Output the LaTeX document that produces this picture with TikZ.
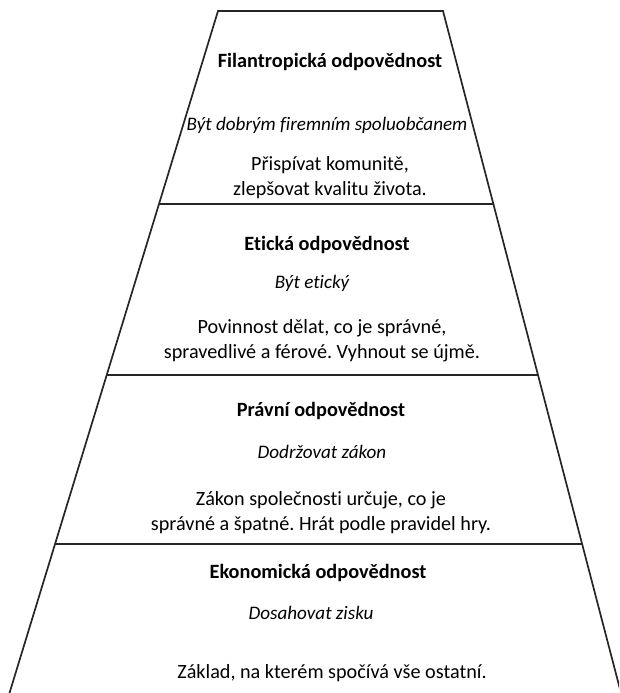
\documentclass[tikz,border=0pt]{standalone}
\usepackage{fontspec}
\setmainfont[Ligatures=CommonOff]{Carlito}
\frenchspacing

\begin{document}
\begin{tikzpicture}[x=1pt, y=-1pt]
\tikzset{nadpis/.style={font=\fontsize{20.3}{24}\selectfont\bfseries, inner sep=0pt},
  motto/.style={font=\fontsize{19.1}{24}\selectfont\itshape, inner sep=0pt},
  popis/.style={font=\fontsize{20.2}{25}\selectfont, align=center, inner sep=0pt},
  hrana/.style={line width=1.7pt, draw=black!85}}
\useasboundingbox (0, 0) rectangle (619, 693);
\clip (0, 0) rectangle (619, 693);
\coordinate (L0) at (218, 11);
\coordinate (R0) at (443, 11);
\coordinate (L1) at (159, 204);
\coordinate (R1) at (493, 204);
\coordinate (L2) at (107, 375);
\coordinate (R2) at (538, 375);
\coordinate (L3) at (55, 544);
\coordinate (R3) at (582, 544);
\coordinate (L4) at (9.5, 693);
\coordinate (R4) at (621, 693);
\draw[hrana, line join=miter] (L4) -- (L0) -- (R0) -- (R4);
\draw[hrana] (L1) -- (R1);
\draw[hrana] (L2) -- (R2);
\draw[hrana] (L3) -- (R3);
\node[nadpis] (N1) at (330, 62) {Filantropická odpovědnost};
\node[motto] (M1) at (327, 125) {Být dobrým firemním spoluobčanem};
\node[popis] (P1) at (330, 178) {Přispívat komunitě,\\zlepšovat kvalitu života.};
\node[nadpis] (N2) at (327, 245) {Etická odpovědnost};
\node[motto] (M2) at (312, 283) {Být etický};
\node[popis] (P2) at (322, 341) {Povinnost dělat, co je správné,\\spravedlivé a férové. Vyhnout se újmě.};
\node[nadpis] (N3) at (321, 411) {Právní odpovědnost};
\node[motto] (M3) at (322, 452) {Dodržovat zákon};
\node[popis] (P3) at (321, 513) {Zákon společnosti určuje, co je\\správné a špatné. Hrát podle pravidel hry.};
\node[nadpis] (N4) at (318, 573) {Ekonomická odpovědnost};
\node[motto] (M4) at (311, 613) {Dosahovat zisku};
\node[popis] (P4) at (332, 673) {Základ, na kterém spočívá vše ostatní.};
\end{tikzpicture}
\end{document}
